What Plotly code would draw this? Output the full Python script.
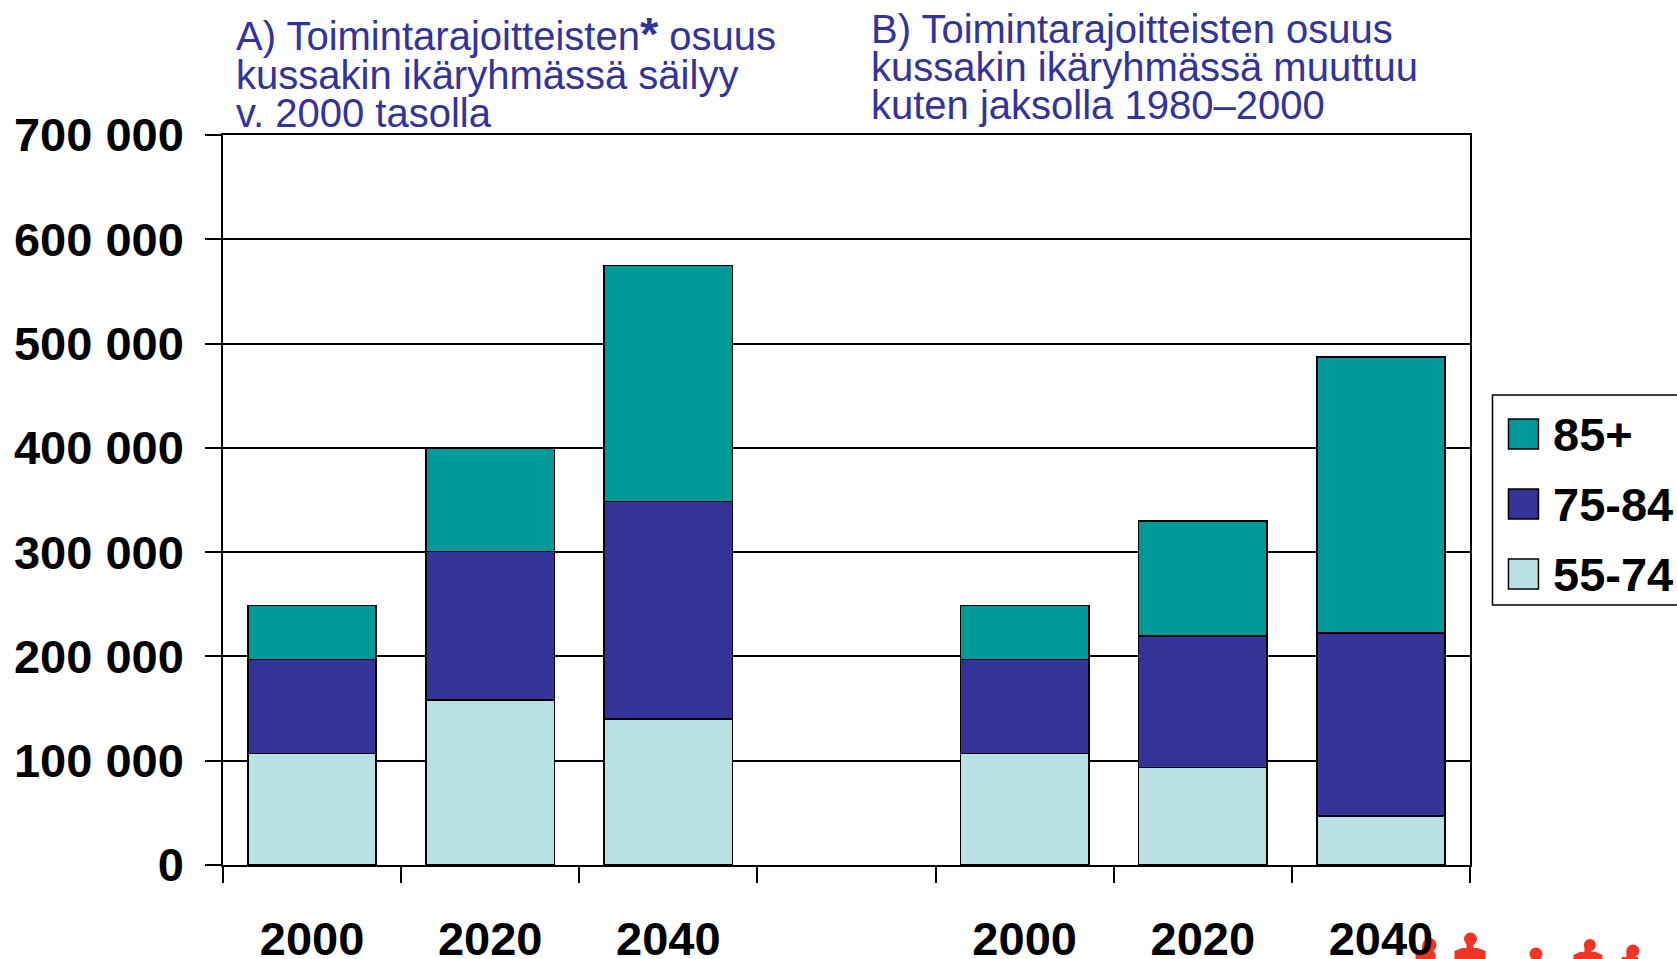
import plotly.graph_objects as go

categories = ["2000", "2020", "2040", " ", "2000 ", "2020 ", "2040 "]
age_55_74 = [107000, 158000, 140000, None, 107000, 93500, 47000]
age_75_84 = [90000, 142500, 208500, None, 90000, 126000, 175500]
age_85 = [52000, 99500, 226500, None, 52000, 110500, 264500]
y_ticks = [0, 100000, 200000, 300000, 400000, 500000, 600000, 700000]
y_labels = ["0", "100 000", "200 000", "300 000", "400 000", "500 000", "600 000", "700 000"]
series_names = ["55-74", "75-84", "85+"]
series_colors = ["#B9E0E3", "#333399", "#009999"]
title_a = ['A) Toimintarajoitteisten<span style="font-size:47px"><b>*</b></span> osuus', "kussakin ikäryhmässä säilyy", "v. 2000 tasolla"]
title_b = ["B) Toimintarajoitteisten osuus", "kussakin ikäryhmässä muuttuu", "kuten jaksolla 1980–2000"]

W, H = 1677, 959
L, R, T, B = 222.5, 1470.5, 135, 865
FONT = "Liberation Sans, Arial, sans-serif"
BLUE = "#333399"
RED = "#F23427"

def px(x):
    return (x - L) / (R - L)

def py(y):
    return (B - y) / (B - T)

fig = go.Figure()
for name, vals, col in zip(series_names, [age_55_74, age_75_84, age_85], series_colors):
    fig.add_trace(go.Bar(x=categories, y=vals, name=name, marker=dict(color=col, line=dict(color="black", width=1.5))))

shapes, annots = [], []

def rect(x0, y0, x1, y1, fill, lw=1.5, layer="above"):
    shapes.append(dict(type="rect", xref="paper", yref="paper", x0=px(x0), x1=px(x1), y0=py(y0), y1=py(y1),
                       fillcolor=fill, line=dict(color="black", width=lw), layer=layer))

def text(x, y, s, size, color, anchor="left"):
    annots.append(dict(xref="paper", yref="paper", x=px(x), y=py(y), text=s, showarrow=False, xanchor=anchor,
                       yanchor="middle", align="left", borderpad=0,
                       font=dict(family=FONT, size=size, color=color)))

# Panel headings
for s, y, x in zip(title_a, [33, 75, 113], [234.5, 235, 235]):
    text(x, y, s, 40, BLUE)
for s, y in zip(title_b, [29, 67, 105]):
    text(870, y, s, 40, BLUE)

# Legend
rect(1493, 395, 1700, 605, "white", 1.5)
for name, col, y in zip(series_names[::-1], series_colors[::-1], [434, 504, 574]):
    rect(1509, y - 15, 1539, y + 15, col)
    text(1552.5, y, "<b>%s</b>" % name, 47, "black")

# Clipped red figures at the lower edge
def head(cx, cy, r):
    shapes.append(dict(type="circle", xref="paper", yref="paper", x0=px(cx - r), x1=px(cx + r), y0=py(cy + r), y1=py(cy - r),
                       fillcolor=RED, line=dict(width=0), layer="below"))

def body(x0, x1, ytop, cy):
    c = (x0 + x1) / 2
    pts = [(x0, 965), (x0, ytop + 3), (c - 8, ytop), (c - 3.5, ytop), (c - 3.5, cy), (c + 3.5, cy), (c + 3.5, ytop),
           (c + 8, ytop), (x1, ytop + 3), (x1, 965)]
    d = "M" + " L".join("%f,%f" % (px(a), py(b)) for a, b in pts) + " Z"
    shapes.append(dict(type="path", xref="paper", yref="paper", path=d, fillcolor=RED, line=dict(width=0), layer="below"))

for cx, cy, r in [(1430, 945, 7), (1471, 939, 6.5), (1536.5, 954, 6.5), (1590.5, 945, 6), (1633.5, 951, 6.5)]:
    head(cx, cy, r)
for x0, x1, yt, cy in [(1416, 1436, 951, 945), (1455, 1486, 948, 939), (1574, 1603, 952, 945), (1622, 1639, 957, 951)]:
    body(x0, x1, yt, cy)

fig.update_layout(
    width=W, height=H, barmode="stack", bargap=0.28, showlegend=False,
    margin=dict(l=L, r=W - R, t=T, b=H - B, autoexpand=False),
    paper_bgcolor="white", plot_bgcolor="white",
    font=dict(family=FONT, color="black"),
    shapes=shapes, annotations=annots,
    xaxis=dict(type="category", categoryorder="array", categoryarray=categories, tickmode="array",
               tickvals=categories, ticktext=[c.strip() for c in categories], tickson="boundaries",
               ticks="outside", ticklen=16, tickwidth=1.5, tickcolor="black", showgrid=False,
               showline=True, linecolor="black", linewidth=1.5, mirror=True, ticklabelstandoff=32,
               tickfont=dict(family=FONT, size=47, color="black", weight="bold")),
    yaxis=dict(range=[0, 700000], tickmode="array", tickvals=y_ticks, ticktext=y_labels, ticks="outside", ticklen=16,
               tickwidth=1.5, tickcolor="black", showgrid=True, gridcolor="black", gridwidth=1.5, zeroline=False,
               showline=True, linecolor="black", linewidth=1.5, mirror=True, ticklabelstandoff=12,
               tickfont=dict(family=FONT, size=47, color="black", weight="bold")),
)

fig.write_html("out.html", config=dict(displayModeBar=False),
               post_script="document.body.style.margin='0';document.body.style.overflow='hidden';document.documentElement.style.overflow='hidden';")
